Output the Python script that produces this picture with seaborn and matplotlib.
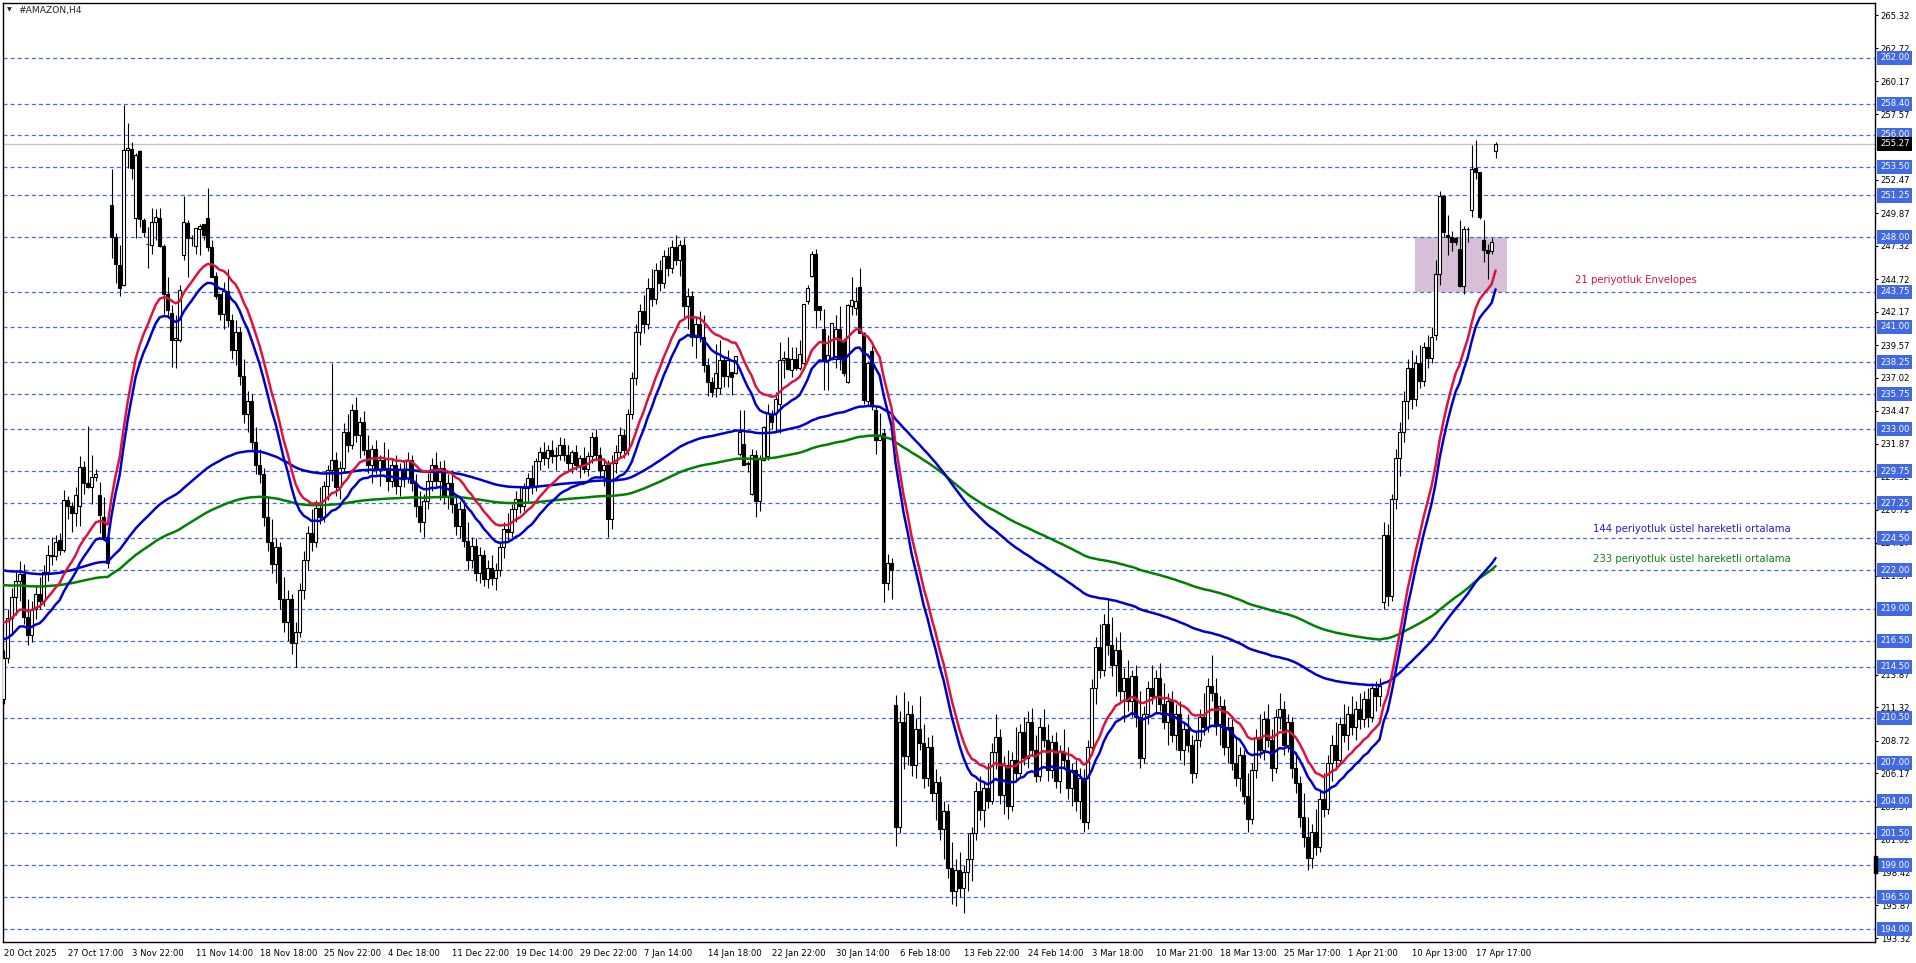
import numpy as np
import pandas as pd
import seaborn as sns
import matplotlib.pyplot as plt
import matplotlib.transforms as mtransforms
from matplotlib.patches import Rectangle

# H4 candles, #AMAZON (bar 0 = 20 Oct 2025)
opens = [
    212.0, 215.2, 218.3, 219.9, 221.2, 221.7, 218.4, 217.0, 219.0, 220.2,
    219.6, 221.9, 223.2, 223.1, 224.4, 223.6, 227.5, 227.0, 226.5, 227.0,
    230.1, 228.8, 228.5, 229.3, 227.9, 226.2, 224.6, 250.5, 248.0, 245.8,
    244.3, 254.8, 254.9, 249.5, 254.7, 249.3, 247.5, 247.4, 249.2, 249.5,
    247.3, 243.6, 242.1, 240.0, 240.0, 246.6, 249.1, 247.9, 247.3, 248.6,
    249.0, 249.5, 247.2, 245.0, 243.6, 242.0, 243.8, 241.5, 239.2, 240.6,
    237.2, 234.2, 235.2, 232.0, 230.2, 229.5, 226.2, 224.2, 222.5, 223.8,
    219.8, 218.0, 219.8, 216.3, 217.2, 220.5, 222.8, 224.9, 224.2, 226.9,
    226.2, 228.6, 229.8, 230.6, 228.5, 230.0, 232.8, 231.8, 234.5, 232.6,
    233.6, 231.4, 230.2, 231.5, 229.9, 230.6, 230.0, 229.0, 230.2, 228.6,
    229.8, 229.2, 230.6, 228.8, 227.0, 225.8, 227.4, 229.0, 230.2, 229.0,
    230.0, 227.8, 228.8, 227.2, 225.5, 226.8, 224.3, 222.8, 223.9, 221.8,
    223.2, 221.3, 222.2, 221.4, 222.0, 223.8, 225.2, 225.0, 226.8, 227.6,
    227.0, 228.4, 229.2, 228.6, 230.5, 231.2, 230.8, 231.4, 230.9, 231.0,
    231.8, 231.0, 230.4, 231.2, 230.2, 230.8, 229.9, 230.9, 232.4, 231.0,
    229.8, 230.2, 226.0, 230.4, 231.2, 232.6, 231.4, 234.2, 237.0, 240.6,
    242.2, 241.2, 244.0, 243.2, 245.4, 244.4, 246.5, 245.6, 247.2, 246.2,
    247.4, 242.6, 243.4, 240.2, 241.2, 240.2, 238.0, 236.7, 236.2, 236.2,
    238.4, 237.2, 237.5, 237.4, 231.1, 231.9, 230.4, 228.0, 231.0, 227.4,
    230.6, 230.9, 234.1, 234.3, 235.0, 238.4, 238.6, 237.6, 238.5, 237.8,
    238.2, 243.0, 245.0, 246.7, 242.6, 240.8, 238.4, 238.5, 238.5, 240.8,
    240.0, 236.7, 242.6, 242.5, 244.1, 240.5, 235.2, 239.1, 234.5, 232.2,
    232.7, 221.0, 222.6, 211.5, 202.0, 210.2, 207.5, 210.8, 206.8, 209.6,
    208.5, 205.8, 208.2, 204.6, 205.5, 201.8, 203.2, 198.8, 197.0, 198.6,
    197.2, 198.5, 199.5, 201.5, 204.8, 203.3, 205.0, 204.0, 207.8, 209.0,
    204.5, 206.8, 203.6, 207.2, 206.2, 209.4, 207.4, 210.2, 208.0, 206.0,
    209.8, 208.8, 206.4, 208.6, 205.6, 207.8, 207.2, 205.0, 206.4, 204.0,
    205.8, 202.4, 208.2, 212.8, 216.0, 214.2, 217.8, 216.2, 214.6, 215.8,
    212.6, 213.6, 211.8, 213.8, 210.6, 207.4, 210.8, 212.8, 212.2, 213.6,
    211.6, 210.2, 211.8, 209.2, 210.8, 208.0, 209.6, 208.4, 206.2, 208.8,
    210.6, 209.8, 213.0, 212.4, 210.0, 211.4, 208.2, 209.8, 207.0, 205.8,
    207.6, 204.4, 202.6, 206.4, 209.0, 208.0, 210.4, 208.8, 206.6, 210.6,
    211.2, 208.4, 210.2, 206.6, 205.4, 202.8, 201.2, 199.6, 201.6, 200.4,
    204.2, 203.4, 207.0, 208.4, 207.2, 210.0, 209.2, 210.8, 209.8, 211.2,
    210.4, 212.0, 210.6, 212.8, 212.2, 219.5, 224.8, 220.0, 227.6, 230.8,
    232.8, 235.2, 237.8, 235.4, 238.2, 236.8, 239.4, 238.6, 240.4, 245.1,
    251.2, 248.2, 248.0, 247.9, 247.1, 244.2, 248.6, 250.1, 253.4, 253.1,
    247.8, 247.0, 246.9, 254.7,
]
highs = [
    215.8, 219.0, 220.6, 222.0, 222.7, 222.5, 219.8, 219.6, 220.8, 221.5,
    222.4, 224.0, 224.6, 224.8, 224.9, 228.3, 227.8, 227.3, 228.5, 230.9,
    230.5, 233.3, 231.0, 229.9, 228.9, 227.7, 225.4, 253.3, 248.3, 247.4,
    258.3, 256.9, 255.4, 254.6, 254.8, 249.5, 248.8, 250.3, 250.2, 250.3,
    247.5, 244.9, 242.7, 241.9, 244.3, 251.2, 249.3, 248.2, 248.7, 249.0,
    249.0, 251.8, 247.8, 245.3, 243.6, 244.5, 245.5, 242.0, 241.5, 241.0,
    238.5, 236.0, 235.8, 233.2, 231.5, 230.0, 227.8, 226.0, 224.5, 224.2,
    221.5, 220.5, 220.2, 218.0, 221.0, 223.5, 225.5, 226.8, 227.5, 228.5,
    229.0, 230.2, 238.2, 231.2, 230.5, 233.5, 234.2, 235.0, 235.5, 234.0,
    234.4, 232.6, 231.8, 232.2, 231.0, 232.0, 231.5, 230.8, 231.0, 230.4,
    230.6, 231.2, 231.0, 229.5, 228.2, 228.0, 229.6, 230.8, 231.2, 230.5,
    230.6, 229.5, 229.8, 228.0, 227.4, 227.5, 225.8, 224.6, 224.5, 223.8,
    223.6, 222.8, 223.2, 222.6, 224.2, 225.8, 226.5, 227.2, 228.2, 228.6,
    228.8, 229.6, 230.2, 230.8, 231.6, 232.0, 231.8, 232.2, 231.6, 232.4,
    232.3, 231.8, 231.4, 231.8, 231.0, 231.6, 231.2, 232.8, 233.0, 231.6,
    230.8, 230.6, 231.0, 231.8, 233.2, 233.0, 234.6, 237.5, 241.2, 242.8,
    243.5, 244.8, 245.5, 246.0, 246.2, 247.0, 247.2, 247.8, 248.2, 247.8,
    247.9, 244.0, 243.8, 241.8, 242.2, 241.9, 238.6, 237.1, 239.7, 240.0,
    238.7, 239.2, 237.5, 238.7, 234.5, 234.5, 230.5, 231.5, 231.4, 231.0,
    233.3, 235.0, 234.5, 235.9, 239.8, 239.1, 240.2, 239.4, 239.4, 240.0,
    242.8, 244.3, 246.9, 247.1, 242.6, 242.4, 240.4, 241.3, 241.9, 242.6,
    240.1, 242.8, 244.9, 244.1, 245.6, 240.6, 238.3, 239.5, 234.8, 234.3,
    233.0, 223.3, 223.0, 212.3, 211.0, 212.5, 211.8, 211.5, 210.5, 212.2,
    210.0, 209.0, 209.2, 206.5, 206.0, 204.0, 203.8, 200.8, 199.5, 200.0,
    199.0, 201.5, 202.0, 205.5, 206.0, 205.5, 207.0, 208.5, 210.8, 209.6,
    207.5, 208.0, 207.8, 209.8, 210.0, 210.6, 211.0, 211.3, 209.2, 210.5,
    211.2, 210.0, 209.2, 209.4, 208.4, 209.6, 208.2, 207.0, 207.2, 206.6,
    206.5, 208.8, 213.5, 216.8, 217.8, 218.6, 219.8, 218.4, 216.8, 217.2,
    214.4, 215.0, 214.2, 214.6, 212.6, 211.4, 213.4, 214.6, 214.2, 214.8,
    213.2, 212.4, 212.6, 211.6, 211.8, 210.2, 210.8, 209.2, 209.4, 211.2,
    212.4, 213.6, 215.4, 213.6, 212.2, 212.0, 210.6, 210.4, 209.0, 208.2,
    208.0, 206.2, 207.0, 209.6, 210.8, 211.0, 211.6, 209.6, 211.2, 212.4,
    211.8, 210.8, 210.6, 207.8, 206.0, 204.6, 202.8, 202.2, 203.4, 204.8,
    206.2, 207.6, 209.2, 210.2, 210.6, 211.6, 211.4, 212.2, 211.8, 212.4,
    212.6, 212.8, 213.2, 213.4, 213.6, 225.8, 225.6, 228.0, 231.5, 233.6,
    236.0, 238.5, 239.2, 238.8, 239.6, 239.8, 240.4, 241.0, 246.2, 251.6,
    251.3, 249.7, 248.5, 248.0, 249.3, 248.9, 248.8, 255.2, 255.6, 253.1,
    249.3, 247.5, 247.9, 255.4,
]
lows = [
    211.6, 214.8, 217.0, 218.5, 219.6, 217.8, 216.2, 216.4, 218.2, 219.0,
    219.2, 221.2, 222.4, 222.8, 223.2, 223.4, 226.0, 225.0, 225.5, 225.5,
    228.0, 228.4, 227.2, 229.0, 224.9, 224.4, 222.2, 246.4, 244.4, 243.4,
    244.2, 253.4, 252.5, 247.9, 248.8, 248.0, 245.6, 246.7, 247.8, 247.2,
    242.0, 241.8, 237.9, 237.8, 239.8, 246.2, 244.9, 247.3, 246.7, 246.6,
    247.8, 246.9, 244.9, 243.2, 241.5, 240.8, 241.0, 238.5, 238.0, 236.5,
    233.5, 232.8, 231.5, 229.5, 228.8, 225.5, 223.5, 221.8, 221.0, 219.0,
    217.2, 216.5, 215.5, 214.5, 216.8, 219.8, 222.0, 223.5, 223.8, 225.6,
    225.8, 227.5, 229.0, 227.8, 227.6, 229.6, 231.2, 231.5, 232.0, 230.8,
    231.0, 229.6, 228.8, 229.5, 228.6, 229.8, 228.2, 228.5, 228.0, 227.8,
    228.5, 228.8, 228.2, 226.2, 225.0, 224.6, 226.8, 228.2, 228.5, 227.5,
    227.2, 226.8, 226.5, 224.8, 224.5, 223.8, 222.0, 222.2, 221.2, 221.0,
    220.8, 220.6, 220.9, 220.5, 221.6, 223.0, 224.2, 224.6, 225.8, 226.5,
    226.6, 227.4, 228.0, 228.2, 229.8, 230.2, 230.0, 230.4, 229.8, 230.6,
    230.5, 229.8, 229.6, 229.8, 229.2, 229.6, 229.4, 230.4, 230.6, 229.2,
    228.6, 224.6, 225.2, 229.6, 230.8, 230.8, 231.0, 233.8, 236.5, 239.6,
    240.5, 240.8, 242.6, 242.8, 243.8, 244.0, 245.0, 245.2, 245.8, 245.0,
    241.8, 240.8, 239.5, 238.6, 239.8, 237.5, 235.6, 235.5, 235.5, 235.8,
    236.3, 236.3, 235.7, 237.3, 230.9, 230.2, 229.7, 227.9, 226.2, 226.6,
    230.5, 230.6, 233.0, 232.9, 232.7, 237.0, 237.6, 237.1, 237.6, 237.6,
    238.0, 242.8, 244.9, 240.9, 241.5, 236.1, 236.1, 238.4, 237.8, 237.6,
    237.2, 236.6, 241.9, 241.9, 240.5, 235.0, 234.8, 234.5, 231.1, 232.2,
    219.5, 220.5, 219.8, 200.5, 201.5, 206.5, 206.8, 206.0, 205.8, 208.0,
    205.0, 205.2, 204.0, 202.5, 201.0, 199.5, 198.0, 196.0, 195.8, 196.5,
    195.3, 197.0, 197.8, 201.0, 202.5, 202.0, 203.5, 203.8, 206.5, 203.8,
    203.0, 202.6, 203.2, 205.6, 205.8, 206.8, 206.6, 207.5, 205.5, 205.6,
    208.2, 205.6, 205.8, 205.0, 204.6, 206.6, 204.2, 203.6, 203.2, 202.6,
    201.6, 201.8, 207.6, 211.6, 213.6, 213.8, 215.4, 213.8, 212.2, 211.8,
    210.2, 211.0, 210.6, 209.8, 206.6, 207.0, 210.0, 211.6, 210.8, 211.0,
    209.6, 208.4, 208.6, 208.0, 207.2, 206.8, 207.8, 205.4, 205.8, 208.2,
    209.2, 209.4, 211.8, 209.2, 208.4, 207.6, 207.0, 206.4, 205.2, 204.8,
    203.8, 201.6, 202.2, 205.8, 207.4, 207.2, 208.2, 205.6, 206.2, 209.6,
    207.6, 207.8, 205.8, 204.6, 202.0, 200.4, 198.6, 198.8, 199.8, 200.0,
    202.8, 203.0, 205.6, 206.4, 206.8, 208.6, 208.0, 209.2, 208.8, 209.6,
    209.8, 209.8, 210.2, 211.0, 211.4, 219.0, 219.2, 219.6, 226.8, 229.4,
    232.0, 233.8, 234.6, 234.8, 236.2, 236.4, 237.8, 238.2, 240.0, 244.3,
    248.0, 246.6, 246.9, 247.4, 244.1, 243.6, 247.6, 249.6, 252.5, 249.4,
    246.1, 244.7, 246.7, 254.2,
]
closes = [
    215.2, 218.3, 219.9, 221.2, 221.7, 218.4, 217.0, 219.0, 220.2, 219.6,
    221.9, 223.2, 223.1, 224.2, 223.6, 227.5, 227.0, 226.5, 227.9, 230.1,
    228.8, 228.5, 229.3, 229.5, 226.3, 224.6, 222.6, 248.0, 245.9, 244.0,
    254.8, 254.95, 253.4, 254.4, 249.4, 248.4, 247.5, 249.2, 249.6, 247.3,
    243.6, 242.3, 240.0, 240.1, 243.9, 249.2, 247.9, 247.9, 248.7, 248.9,
    248.2, 247.2, 244.9, 243.4, 242.0, 243.8, 241.5, 239.2, 240.6, 237.2,
    234.2, 235.2, 232.0, 230.2, 229.5, 226.2, 224.2, 222.5, 223.8, 219.8,
    218.0, 219.8, 216.3, 217.2, 220.5, 222.8, 224.9, 224.2, 226.9, 226.2,
    228.6, 229.8, 230.6, 228.5, 230.0, 232.8, 231.8, 234.5, 232.6, 233.6,
    231.4, 230.2, 231.5, 229.9, 230.6, 230.0, 229.0, 230.2, 228.6, 229.8,
    229.2, 230.6, 228.8, 227.0, 225.8, 227.4, 229.0, 230.2, 229.0, 230.0,
    227.8, 228.8, 227.2, 225.5, 226.8, 224.3, 222.8, 223.9, 221.8, 223.2,
    221.3, 222.2, 221.4, 222.0, 223.8, 225.2, 225.0, 226.8, 227.6, 227.0,
    228.4, 229.2, 228.6, 230.5, 231.2, 230.8, 231.4, 230.9, 231.0, 231.8,
    231.0, 230.4, 231.2, 230.2, 230.8, 229.9, 230.9, 232.4, 231.0, 229.8,
    230.2, 226.0, 230.4, 231.2, 232.6, 231.4, 234.2, 237.0, 240.6, 242.2,
    241.2, 244.0, 243.2, 245.4, 244.4, 246.5, 245.6, 247.2, 246.2, 247.4,
    242.6, 243.4, 240.2, 241.2, 240.2, 238.0, 236.7, 235.9, 237.4, 238.4,
    237.2, 238.4, 237.1, 238.7, 232.8, 230.2, 230.3, 231.0, 227.4, 230.7,
    233.2, 234.3, 233.6, 235.4, 238.4, 238.6, 237.7, 238.5, 237.8, 238.9,
    242.8, 244.0, 246.7, 242.3, 242.3, 238.4, 238.8, 241.3, 240.8, 238.5,
    237.4, 242.7, 243.1, 243.0, 240.5, 235.3, 238.2, 234.8, 232.2, 232.5,
    221.0, 222.6, 222.0, 202.0, 210.2, 207.5, 210.8, 206.8, 209.6, 208.5,
    205.8, 208.2, 204.6, 205.5, 201.8, 203.2, 198.8, 197.0, 198.6, 197.2,
    198.5, 199.5, 201.5, 204.8, 203.3, 205.0, 204.0, 207.8, 209.0, 204.5,
    206.8, 203.6, 207.2, 206.2, 209.4, 207.4, 210.2, 208.0, 206.0, 209.8,
    208.8, 206.4, 208.6, 205.6, 207.8, 207.2, 205.0, 206.4, 204.0, 205.8,
    202.4, 208.2, 212.8, 216.0, 214.2, 217.8, 216.2, 214.6, 215.8, 212.6,
    213.6, 211.8, 213.8, 210.6, 207.4, 210.8, 212.8, 212.2, 213.6, 211.6,
    210.2, 211.8, 209.2, 210.8, 208.0, 209.6, 208.4, 206.2, 208.8, 210.6,
    209.8, 213.0, 212.4, 210.0, 211.4, 208.2, 209.8, 207.0, 205.8, 207.6,
    204.4, 202.6, 206.4, 209.0, 208.0, 210.4, 208.8, 206.6, 210.6, 211.2,
    208.4, 210.2, 206.6, 205.4, 202.8, 201.2, 199.6, 201.6, 200.4, 204.2,
    203.4, 207.0, 208.4, 207.2, 210.0, 209.2, 210.8, 209.8, 211.2, 210.4,
    212.0, 210.6, 212.8, 212.2, 213.0, 224.8, 220.0, 227.6, 230.8, 232.8,
    235.2, 237.8, 235.4, 238.2, 236.8, 239.4, 238.6, 240.2, 245.1, 251.2,
    248.4, 248.0, 247.6, 247.6, 244.2, 248.6, 248.6, 253.3, 253.1, 249.6,
    247.0, 246.8, 247.6, 255.27,
]

env_period, env_dev, env_start = 21, 0.003, 217.5
ema144_start = 222.1
ema233_start = 220.9

# time axis labels, one every 16 bars
date_labels = ["20 Oct 2025", "27 Oct 17:00", "3 Nov 22:00", "11 Nov 14:00", "18 Nov 18:00",
               "25 Nov 22:00", "4 Dec 18:00", "11 Dec 22:00", "19 Dec 14:00", "29 Dec 22:00",
               "7 Jan 14:00", "14 Jan 18:00", "22 Jan 22:00", "30 Jan 14:00", "6 Feb 18:00",
               "13 Feb 22:00", "24 Feb 14:00", "3 Mar 18:00", "10 Mar 21:00", "18 Mar 13:00",
               "25 Mar 17:00", "1 Apr 21:00", "10 Apr 13:00", "17 Apr 17:00"]

price_ticks = [265.32, 262.72, 260.17, 257.57, 252.47, 249.87, 247.32, 244.72, 242.17,
               239.57, 237.02, 234.47, 231.87, 229.32, 226.72, 224.17, 221.57,
               213.87, 211.32, 208.72, 206.17, 203.57, 201.02, 198.42, 195.87, 193.32]

# horizontal support / resistance levels
levels = [262.00, 258.40, 256.00, 253.50, 251.25, 248.00, 243.75, 241.00, 238.25, 235.75,
          233.00, 229.75, 227.25, 224.50, 222.00, 219.00, 216.50, 214.50, 210.50, 207.00,
          204.00, 201.50, 199.00, 196.50, 194.00]
last_price = 255.27

# shaded zone
zone_bars = (352.8, 375.9)
zone_prices = (243.75, 248.00)


def ema(values, period, start):
    k = 2.0 / (period + 1)
    out, prev = [], start
    for v in values:
        prev = prev + k * (v - prev)
        out.append(prev)
    return np.array(out)


n = len(closes)
df = pd.DataFrame({"bar": np.arange(n), "open": opens, "high": highs,
                   "low": lows, "close": closes})
mid = ema(closes, env_period, env_start)
df["env_up"] = mid * (1 + env_dev)
df["env_dn"] = mid * (1 - env_dev)
df["ema144"] = ema(closes, 144, ema144_start)
df["ema233"] = ema(closes, 233, ema233_start)

sns.set_style("white")
plt.rcParams["font.family"] = ["DejaVu Sans"]
plt.rcParams["lines.scale_dashes"] = False

fig = plt.figure(figsize=(19.16, 9.63), dpi=100)
ax = fig.add_axes([0.00141, 0.0215, 0.97719, 0.97570])

# zone + levels
ax.add_patch(Rectangle((zone_bars[0], zone_prices[0]), zone_bars[1] - zone_bars[0],
                       zone_prices[1] - zone_prices[0], fc="#D8BFD8", ec="none", zorder=1))
for lv in levels:
    ax.axhline(lv, color="#4169E1", lw=0.9, ls=(0, (2.9, 2.2)), zorder=2)
ax.axhline(last_price, color="#C0C0C0", lw=0.9, zorder=2)

# candles
ax.vlines(df["bar"], df["low"], df["high"], color="black", lw=0.8, zorder=3)
bull = df[df["close"] >= df["open"]]
bear = df[df["close"] < df["open"]]
ax.bar(bull["bar"], bull["close"] - bull["open"], bottom=bull["open"], width=0.72,
       color="white", edgecolor="black", linewidth=0.8, zorder=3.5)
ax.bar(bear["bar"], bear["close"] - bear["open"], bottom=bear["open"], width=0.72,
       color="black", edgecolor="black", linewidth=0.8, zorder=3.5)

# indicators
sns.lineplot(data=df, x="bar", y="ema233", color="#008000", linewidth=1.8, ax=ax, zorder=4)
sns.lineplot(data=df, x="bar", y="ema144", color="#0000CD", linewidth=1.8, ax=ax, zorder=4)
sns.lineplot(data=df, x="bar", y="env_dn", color="#0000CD", linewidth=1.8, ax=ax, zorder=4)
sns.lineplot(data=df, x="bar", y="env_up", color="#DC143C", linewidth=1.8, ax=ax, zorder=4)

ax.text(392.8, 244.65, "21 periyotluk Envelopes", color="#DC143C", fontsize=7.3, va="center")
ax.text(397.3, 225.2, "144 periyotluk üstel hareketli ortalama", color="#2A1AD0",
        fontsize=7.3, va="center")
ax.text(397.3, 222.9, "233 periyotluk üstel hareketli ortalama", color="#108010",
        fontsize=7.3, va="center")

# axes
ax.set_xlim(-0.225, 467.85)
ax.set_ylim(192.99, 266.29)
ax.set_xlabel("")
ax.set_ylabel("")
ax.yaxis.tick_right()
ax.set_yticks(price_ticks)
ax.set_yticklabels([f"{v:.2f}" for v in price_ticks])
ax.tick_params(axis="y", labelsize=6.1, length=2.2, width=0.8, pad=2, colors="black")
ax.set_xticks(np.arange(len(date_labels)) * 16)
ax.set_xticklabels(date_labels, ha="left")
ax.tick_params(axis="x", labelsize=6.1, length=3, width=0.8, pad=2, colors="black")
for s in ax.spines.values():
    s.set_color("black")
    s.set_linewidth(1)

# price labels on the right axis
for lv in levels:
    ax.annotate(f"{lv:.2f}", xy=(1, lv), xycoords=("axes fraction", "data"),
                xytext=(3.6, 0), textcoords="offset points", ha="left", va="center",
                fontsize=6.1, color="white", annotation_clip=False, zorder=10,
                bbox=dict(boxstyle="square,pad=0.3", fc="#4169E1", ec="none"))
ax.annotate(f"{last_price:.2f}", xy=(1, last_price), xycoords=("axes fraction", "data"),
            xytext=(3.6, 0), textcoords="offset points", ha="left", va="center",
            fontsize=6.1, color="white", annotation_clip=False, zorder=10,
            bbox=dict(boxstyle="square,pad=0.3", fc="black", ec="none"))

trans = mtransforms.blended_transform_factory(ax.transAxes, ax.transData)
ax.add_patch(Rectangle((0.9995, 198.4), 0.0015, 1.3, transform=trans,
                       clip_on=False, color="black", zorder=10))

fig.text(7 / 1916, 1 - 10 / 963, "▼", fontsize=4.5, va="center", ha="left")
fig.text(18 / 1916, 1 - 10 / 963, "#AMAZON,H4", fontsize=6.6, va="center", ha="left")

fig.savefig("out.png", dpi=100)
